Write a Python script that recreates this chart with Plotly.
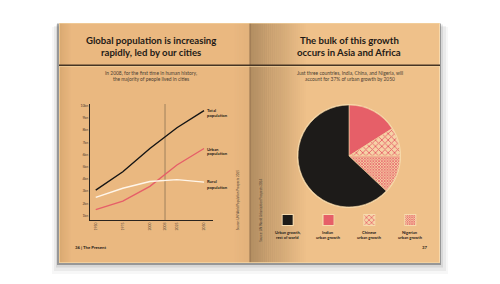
import plotly.graph_objects as go

W, H = 500, 284

# ---------------- data ----------------
years = [1950, 1975, 2000, 2025, 2050]
total_pop = [3.1, 4.6, 6.5, 8.2, 9.6]
urban_pop = [1.5, 2.2, 3.4, 5.15, 6.5]
rural_pop = [2.5, 3.25, 3.8, 3.95, 3.75]
series_names = ["Total<br>population", "Urban<br>population", "Rural<br>population"]

x_tick_pos = [1950, 1975, 2000, 2014, 2025, 2050]
x_tick_text = ["1950", "1975", "2000", "2008", "2025", "2050"]
milestone_pos = 2014
y_tick_vals = [1, 2, 3, 4, 5, 6, 7, 8, 9, 10]
y_tick_text = ["1bn", "2bn", "3bn", "4bn", "5bn", "6bn", "7bn", "8bn", "9bn", "10bn"]

pie_labels = ["Indian urban growth", "Chinese urban growth",
              "Nigerian urban growth", "Urban growth, rest of world"]
pie_values = [16, 9, 12, 63]
legend_order = [3, 0, 1, 2]
legend_text = ["Urban growth,<br>rest of world", "Indian<br>urban growth",
               "Chinese<br>urban growth", "Nigerian<br>urban growth"]

# ---------------- styles ----------------
RED = "#E65F68"
CREAM = "#F6D2A6"
BLACK = "#1D1B19"
slice_colors = [RED, CREAM, CREAM, BLACK]
slice_shapes = ["", "x", "x", ""]
slice_psize = [4, 4.5, 2.0, 4]
slice_solid = [0.3, 0.35, 0.6, 0.3]
slice_fg = [RED, RED, RED, BLACK]


def px(x):
    return x / W


def py(y):
    return 1 - y / H


def rect(x0, y0, x1, y1, color, opacity=1.0):
    return dict(type="rect", xref="paper", yref="paper",
                x0=px(x0), x1=px(x1), y0=py(y1), y1=py(y0),
                fillcolor=color, line_width=0, opacity=opacity, layer="below")


def hexrgb(h):
    h = h.lstrip("#")
    return [int(h[i:i + 2], 16) for i in (0, 2, 4)]


def blend(c1, c2, t):
    a, b = hexrgb(c1), hexrgb(c2)
    return "rgb(%d,%d,%d)" % tuple(round(a[i] + (b[i] - a[i]) * t) for i in range(3))


def hgrad(x0, x1, y0, y1, c1, c2, n):
    out = []
    step = (x1 - x0) / n
    for i in range(n):
        out.append(rect(x0 + i * step, y0, x0 + (i + 1) * step + 0.3, y1,
                        blend(c1, c2, i / max(n - 1, 1))))
    return out


shapes = []
# drop shadow
shapes.append(rect(52, 27, 448, 274, "#000000", 0.03))
shapes.append(rect(54, 26, 446, 271, "#000000", 0.05))
shapes.append(rect(56, 24.5, 443, 267.5, "#000000", 0.08))
shapes.append(rect(57, 23.5, 441, 265, "#4a4a4a", 0.45))
# pages
LP = "#EAB880"
RP = "#EFC18A"
shapes.append(rect(59, 23, 250, 263, LP))
shapes += hgrad(59, 72, 23, 263, "#D7A770", LP, 12)
shapes += hgrad(232, 250, 23, 263, LP, "#E2B27C", 10)
shapes.append(rect(250, 23, 440, 263, RP))
shapes += hgrad(250, 308, 23, 263, "#B38E62", RP, 30)
shapes.append(rect(249.4, 23, 250.6, 263, "#8E6E4C", 0.8))
# page edges
shapes.append(rect(59, 23, 60, 263, "#F4D4A2", 0.8))
shapes.append(rect(439, 23, 440, 263, "#F8DCAE", 0.9))
shapes.append(rect(59, 262, 440, 263, "#F4D4A2", 0.8))
shapes.append(rect(59, 23, 440, 23.8, "#F6D8A8", 0.7))
# header rule
shapes.append(rect(59, 64.6, 440, 66.0, "#463524"))
shapes.append(rect(59, 66.0, 440, 66.8, "#F6D6A2", 0.8))
# pie glow
shapes.append(dict(type="circle", xref="paper", yref="paper",
                   x0=px(297), x1=px(401), y0=py(208), y1=py(104),
                   fillcolor="#F7DDB0", line_width=0, layer="below"))
# legend square borders
lcx = [287.7, 328.3, 369.3, 410.3]
for cx in lcx:
    shapes.append(rect(cx - 6, 214, cx + 6, 226, "#F7DBAE"))

# milestone line in data coords
shapes.append(dict(type="line", xref="x", yref="paper",
                   x0=milestone_pos, x1=milestone_pos, y0=py(220), y1=py(104),
                   line=dict(color="#8C7253", width=0.8), layer="below"))

fig = go.Figure()

line_styles = [("#141414", total_pop), (RED, urban_pop), ("#FFF6EA", rural_pop)]
for (col, vals), name in zip(line_styles, series_names):
    fig.add_trace(go.Scatter(x=years, y=vals, mode="lines", name=name,
                             line=dict(color=col, width=1.4),
                             hoverinfo="skip", showlegend=False,
                             xaxis="x", yaxis="y"))

fig.add_trace(go.Pie(
    labels=pie_labels, values=pie_values, sort=False, direction="clockwise",
    rotation=0, textinfo="none", hoverinfo="skip", showlegend=False,
    domain=dict(x=[px(298), px(400)], y=[py(207), py(105)]),
    marker=dict(colors=slice_colors,
                line=dict(color="#F3D09E", width=0.6),
                pattern=dict(shape=slice_shapes, size=slice_psize,
                             fgcolor=slice_fg, bgcolor=slice_colors,
                             solidity=slice_solid, fillmode="replace")),
))

# legend swatches as bars (one trace per swatch)
for pos, i in enumerate(legend_order):
    pat = dict(shape=slice_shapes[i], size=slice_psize[i] * 0.8,
               fgcolor=slice_fg[i], bgcolor=slice_colors[i],
               solidity=slice_solid[i], fillmode="replace")
    fig.add_trace(go.Bar(
        x=[pos], y=[1], width=0.245, name=pie_labels[i],
        marker=dict(color=slice_colors[i], line=dict(width=0), pattern=pat),
        hoverinfo="skip", showlegend=False, xaxis="x2", yaxis="y2"))

ann = []


def text(x, y, s, size, color="#1E1A16", bold=False, xanchor="center",
         angle=0, family="Lato"):
    ann.append(dict(x=px(x), y=py(y), xref="paper", yref="paper", text=s,
                    showarrow=False, xanchor=xanchor, yanchor="middle",
                    textangle=angle,
                    font=dict(size=size, color=color, family=family,
                              weight=700 if bold else 400)))


# left page
text(150.5, 40.7, "Global population is increasing", 9.6, bold=True)
text(150.5, 52.6, "rapidly, led by our cities", 9.6, bold=True)
text(151, 72.8, "In 2008, for the first time in human history,", 4.9, "#4A3E33")
text(151, 79.3, "the majority of people lived in cities", 4.9, "#4A3E33")
label_y = [(110.7, 115.2), (149.3, 153.6), (181.3, 187.6)]
for name, (y1, y2) in zip(series_names, label_y):
    a, b = name.split("<br>")
    text(205.3, y1, a, 4.2, bold=True, xanchor="left")
    text(205.3, y2, b, 4.2, bold=True, xanchor="left")
text(238.3, 200, "Source: UN World Population Prospects 2015", 3.0, "#4A3E33",
     angle=-90)
text(72.5, 247.7, "36 | The Present", 4.3, bold=True, xanchor="left")

# right page
text(349, 40.7, "The bulk of this growth", 9.6, bold=True)
text(349, 52.6, "occurs in Asia and Africa", 9.6, bold=True)
text(350, 72.8, "Just three countries, India, China, and Nigeria, will", 4.9, "#4A3E33")
text(350, 79.3, "account for 37% of urban growth by 2050", 4.9, "#4A3E33")
for cx, lt in zip(lcx, legend_text):
    a, b = lt.split("<br>")
    text(cx, 232.6, a, 4.0, bold=True)
    text(cx, 237.4, b, 4.0, bold=True)
text(260.7, 210, "Source: UN World Urbanization Prospects 2014", 3.0, "#4A3E33",
     angle=-90)
text(424, 247.7, "37", 4.3, bold=True)

fig.update_layout(
    width=W, height=H, margin=dict(l=0, r=0, t=0, b=0),
    paper_bgcolor="white", plot_bgcolor="rgba(0,0,0,0)",
    shapes=shapes, annotations=ann,
    xaxis=dict(domain=[px(90), px(213)], range=[1944.7, 2058.3],
               showgrid=False, zeroline=False, showline=True,
               linecolor="#2A241E", linewidth=1.3,
               tickmode="array", tickvals=x_tick_pos, ticktext=x_tick_text,
               tickangle=-90, ticks="",
               tickfont=dict(size=3.4, color="#4A3E33", family="Lato")),
    yaxis=dict(domain=[py(220), py(104)], range=[0.65, 10.14],
               showgrid=False, zeroline=False, showline=True,
               linecolor="#2A241E", linewidth=1.3,
               tickmode="array", tickvals=y_tick_vals, ticktext=y_tick_text,
               ticks="",
               tickfont=dict(size=3.4, color="#4A3E33", family="Lato")),
    xaxis2=dict(domain=[px(267.2), px(430.8)], range=[-0.5, 3.5],
                visible=False, fixedrange=True),
    yaxis2=dict(domain=[py(225), py(215)], range=[0, 1],
                visible=False, fixedrange=True),
    barmode="overlay",
)

fig.write_html("out.html")
